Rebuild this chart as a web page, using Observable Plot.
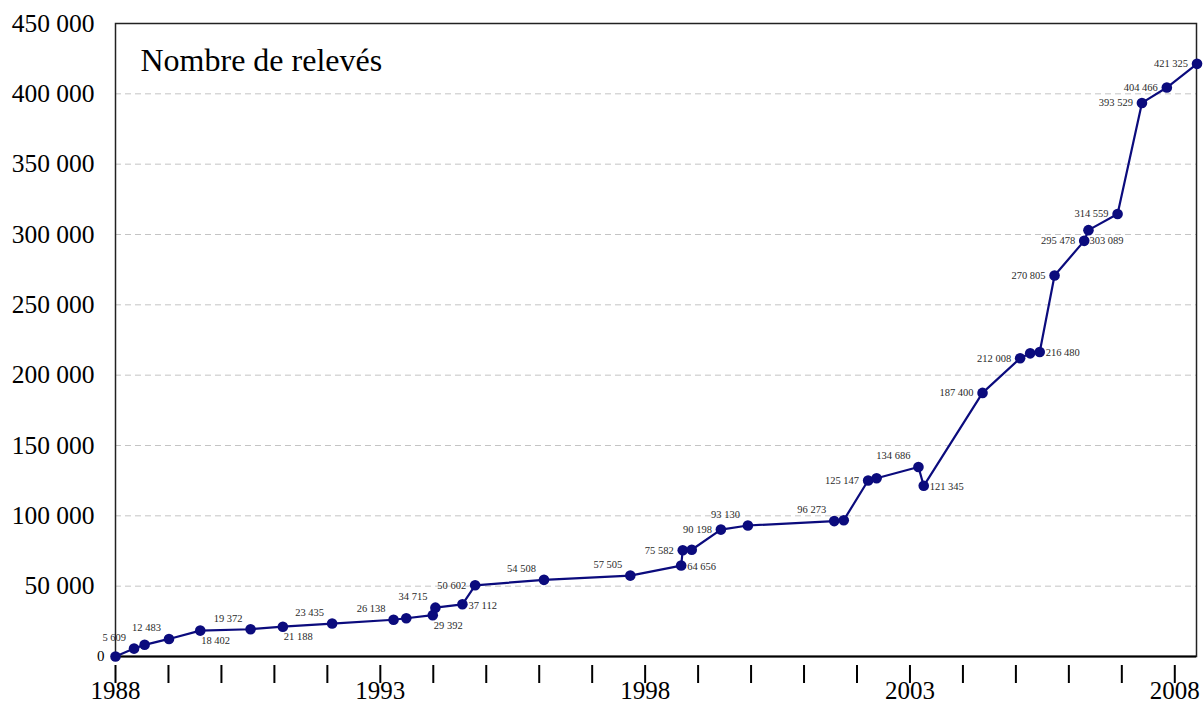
<!DOCTYPE html>
<html>
<head>
<meta charset="utf-8">
<script src="https://cdn.jsdelivr.net/npm/d3@7"></script>
<script src="https://cdn.jsdelivr.net/npm/@observablehq/plot@0.6"></script>
<style>
  html, body { margin: 0; padding: 0; background: #fff; }
  #chart { width: 1204px; height: 707px; }
</style>
</head>
<body>
<div id="chart"></div>
<script>
// ---- data ----
const title = "Nombre de relevés";

const years = [
  1988.00, 1988.35, 1988.55, 1989.01, 1989.60, 1990.55, 1991.16, 1992.09,
  1993.25, 1993.49, 1993.99, 1994.04, 1994.55, 1994.79, 1996.09, 1997.72,
  1998.68, 1998.71, 1998.88, 1999.43, 1999.94, 2001.57, 2001.75, 2002.21,
  2002.37, 2003.16, 2003.26, 2004.37, 2005.08, 2005.27, 2005.45, 2005.73,
  2006.29, 2006.37, 2006.92, 2007.38, 2007.85, 2008.42
];

const values = [
  0, 5609, 8300, 12483, 18402, 19372, 21188, 23435,
  26138, 27200, 29392, 34715, 37112, 50602, 54508, 57505,
  64656, 75582, 75900, 90198, 93130, 96273, 96900, 125147,
  126750, 134686, 121345, 187400, 212008, 215500, 216480, 270805,
  295478, 303089, 314559, 393529, 404466, 421325
];

// which side of the point the value label sits on (null = no label)
const labelSide = [
  null, "nw", null, "nw", "se", "nw", "se", "nw",
  "nw", null, "se", "nw", "e", "w", "nw", "nw",
  "e", "w", null, "w", "nw", "nw", null, "w",
  null, "nw", "e", "w", "w", null, "e", "w",
  "w", "se", "w", "w", "w", "w"
];

const xTickYears = d3.range(1988, 2009);
const yTicks = d3.range(50000, 450001, 50000);
const yGrid = d3.range(50000, 400001, 50000);

// ---- build ----
const rows = years.map((x, i) => ({x, y: values[i], side: labelSide[i]}));
const fmt = d3.formatLocale({thousands: " ", grouping: [3], decimal: ","}).format(",d");
const navy = "#0b0b7d";

const sideStyle = {
  nw: {textAnchor: "end", dx: -8, dy: -11},
  se: {textAnchor: "start", dx: 1, dy: 10},
  e:  {textAnchor: "start", dx: 6, dy: 1},
  w:  {textAnchor: "end", dx: -9, dy: 0}
};

const labelMarks = Object.entries(sideStyle).map(([side, st]) =>
  Plot.text(rows.filter(d => d.side === side), {
    x: "x", y: "y", text: d => fmt(d.y),
    fontSize: 10.5, fill: "#2a2a2a", ...st
  })
);

const chart = Plot.plot({
  width: 1204,
  height: 707,
  marginLeft: 115,
  marginRight: 8,
  marginTop: 23,
  marginBottom: 51,
  style: {fontFamily: "'Liberation Serif', 'Times New Roman', serif", color: "#000", background: "#fff"},
  x: {type: "linear", domain: [1988, 2008.41]},
  y: {domain: [0, 450000]},
  marks: [
    Plot.gridY(yGrid, {stroke: "#c4c4c4", strokeOpacity: 1, strokeDasharray: "6,4", strokeWidth: 1}),
    Plot.frame({stroke: "#222", strokeWidth: 1.5}),
    Plot.ruleY([0], {stroke: "#000", strokeWidth: 2}),
    Plot.axisY({ticks: yTicks, tickSize: 0, tickPadding: 21, fontSize: 25.5, tickFormat: fmt, label: null}),
    Plot.axisY({ticks: [0], tickSize: 0, tickPadding: 11, fontSize: 15, tickFormat: fmt, label: null}),
    Plot.axisX({
      ticks: xTickYears, tickSize: 18, tickPadding: -2, dy: 9, strokeWidth: 2,
      fontSize: 25, label: null,
      tickFormat: d => ((d - 1988) % 5 === 0 ? String(d) : "")
    }),
    Plot.line(rows, {x: "x", y: "y", stroke: navy, strokeWidth: 2.2}),
    Plot.dot(rows, {x: "x", y: "y", r: 5.3, fill: navy, stroke: null}),
    ...labelMarks,
    Plot.text([title], {frameAnchor: "top-left", textAnchor: "start", lineAnchor: "middle", dx: 25, dy: 37, fontSize: 32, fill: "#000"})
  ]
});

document.getElementById("chart").appendChild(chart);
</script>
</body>
</html>
